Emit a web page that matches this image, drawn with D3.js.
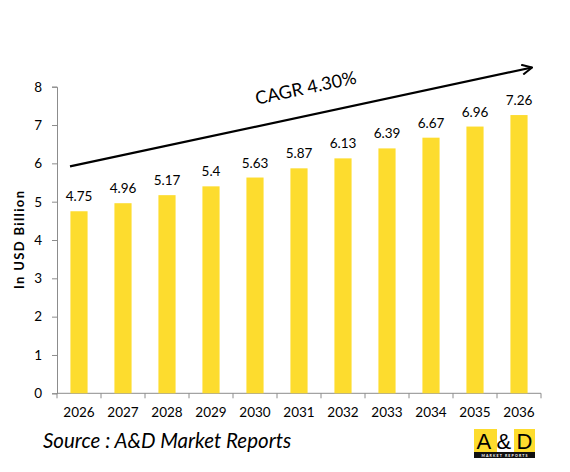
<!DOCTYPE html>
<html>
<head>
<meta charset="utf-8">
<script src="https://cdn.jsdelivr.net/npm/d3@7"></script>
<style>
  html, body { margin: 0; padding: 0; background: #fff; }
  svg { display: block; font-family: Lato, "Open Sans", sans-serif; }
</style>
</head>
<body>
<svg id="chart" width="570" height="472"></svg>
<script>
const years = ["2026","2027","2028","2029","2030","2031","2032","2033","2034","2035","2036"];
const values = [4.75, 4.96, 5.17, 5.4, 5.63, 5.87, 6.13, 6.39, 6.67, 6.96, 7.26];
const yTicks = [0, 1, 2, 3, 4, 5, 6, 7, 8];
const cagrLabel = "CAGR 4.30%";
const yTitle = "In USD Billion";
const sourceText = "Source : A&D Market Reports";

(function () {
const svg = d3.select("#chart");
const pLeft = 57, pRight = 541, pTop = 86.7, pBottom = 393.3;

const x = d3.scaleBand().domain(years).range([pLeft, pRight]).paddingInner(0.61).paddingOuter(0.305);
const y = d3.scaleLinear().domain([0, 8]).range([pBottom, pTop]);

// Y axis
const yAxis = svg.append("g").attr("transform", `translate(${pLeft},0)`)
  .call(d3.axisLeft(y).tickValues(yTicks).tickSize(5).tickPadding(10).tickFormat(d3.format("d")));
yAxis.select(".domain").attr("stroke", "#8c8c8c");
yAxis.selectAll(".tick line").attr("stroke", "#8c8c8c");
yAxis.selectAll("text").attr("font-size", 13.5).attr("fill", "#000").attr("font-family", "Lato, sans-serif");

// X axis with ticks between categories
const xg = svg.append("g").attr("transform", `translate(0,${pBottom})`);
xg.append("line").attr("x1", pLeft).attr("x2", pRight).attr("stroke", "#8c8c8c");
const step = x.step();
const bounds = d3.range(years.length + 1).map(i => pLeft + i * step);
xg.selectAll("line.tk").data(bounds).join("line").attr("class", "tk")
  .attr("x1", d => d).attr("x2", d => d).attr("y1", 0).attr("y2", 5).attr("stroke", "#8c8c8c");
xg.selectAll("text").data(years).join("text")
  .attr("x", d => x(d) + x.bandwidth() / 2).attr("y", 23.5)
  .attr("text-anchor", "middle").attr("font-size", 13.5).attr("fill", "#000")
  .text(d => d);

// Bars
svg.selectAll("rect.bar").data(values).join("rect").attr("class", "bar")
  .attr("x", (d, i) => x(years[i])).attr("width", x.bandwidth())
  .attr("y", d => y(d)).attr("height", d => pBottom - y(d))
  .attr("fill", "#FDDC2E");

// Data labels
svg.selectAll("text.lbl").data(values).join("text").attr("class", "lbl")
  .attr("x", (d, i) => x(years[i]) + x.bandwidth() / 2)
  .attr("y", d => y(d) - 10)
  .attr("text-anchor", "middle").attr("font-size", 13.5).attr("fill", "#000")
  .text(d => d);

// Y axis title
svg.append("text").attr("transform", `translate(24,${(pTop + pBottom) / 2}) rotate(-90)`)
  .attr("text-anchor", "middle").attr("font-size", 13).attr("font-weight", "bold")
  .attr("fill", "#000").attr("textLength", 98).text(yTitle);

// CAGR arrow
const defs = svg.append("defs");
defs.append("marker").attr("id", "arrow").attr("viewBox", "0 0 12 12")
  .attr("refX", 11).attr("refY", 6).attr("markerWidth", 12).attr("markerHeight", 12)
  .attr("markerUnits", "userSpaceOnUse").attr("orient", "auto")
  .append("path").attr("d", "M1,1 L11,6 L1,11").attr("fill", "none")
  .attr("stroke", "#000").attr("stroke-width", 2);
const ax1 = 70, ay1 = y(5.92), ax2 = 532, ay2 = y(8.5);
svg.append("line").attr("x1", ax1).attr("y1", ay1).attr("x2", ax2).attr("y2", ay2)
  .attr("stroke", "#000").attr("stroke-width", 2.2).attr("marker-end", "url(#arrow)");
const ang = Math.atan2(ay2 - ay1, ax2 - ax1) * 180 / Math.PI;
svg.append("text").attr("transform", `translate(307,94) rotate(${ang})`)
  .attr("text-anchor", "middle").attr("font-size", 18).attr("fill", "#000")
  .text(cagrLabel);

// Source
svg.append("text").attr("x", 43).attr("y", 448).attr("font-size", 20.5)
  .attr("font-style", "italic").attr("fill", "#000").text(sourceText);

// Logo
const logo = svg.append("g");
logo.append("rect").attr("x", 474).attr("y", 429).attr("width", 61).attr("height", 23).attr("fill", "#FDDC2E");
logo.append("rect").attr("x", 497).attr("y", 429).attr("width", 17).attr("height", 23).attr("fill", "#fff");
logo.append("rect").attr("x", 474).attr("y", 452).attr("width", 61).attr("height", 6).attr("fill", "#111");
logo.append("text").attr("x", 504.5).attr("y", 448.5).attr("text-anchor", "middle")
  .attr("font-size", 22).attr("font-family", "'Liberation Sans', Arial, sans-serif")
  .attr("fill", "#000").attr("textLength", 56).text("A&D");
logo.append("text").attr("x", 504.5).attr("y", 457.3).attr("text-anchor", "middle")
  .attr("font-size", 3.6).attr("font-weight", "bold").attr("fill", "#fff")
  .attr("textLength", 46).text("MARKET REPORTS");
})();
</script>
</body>
</html>
